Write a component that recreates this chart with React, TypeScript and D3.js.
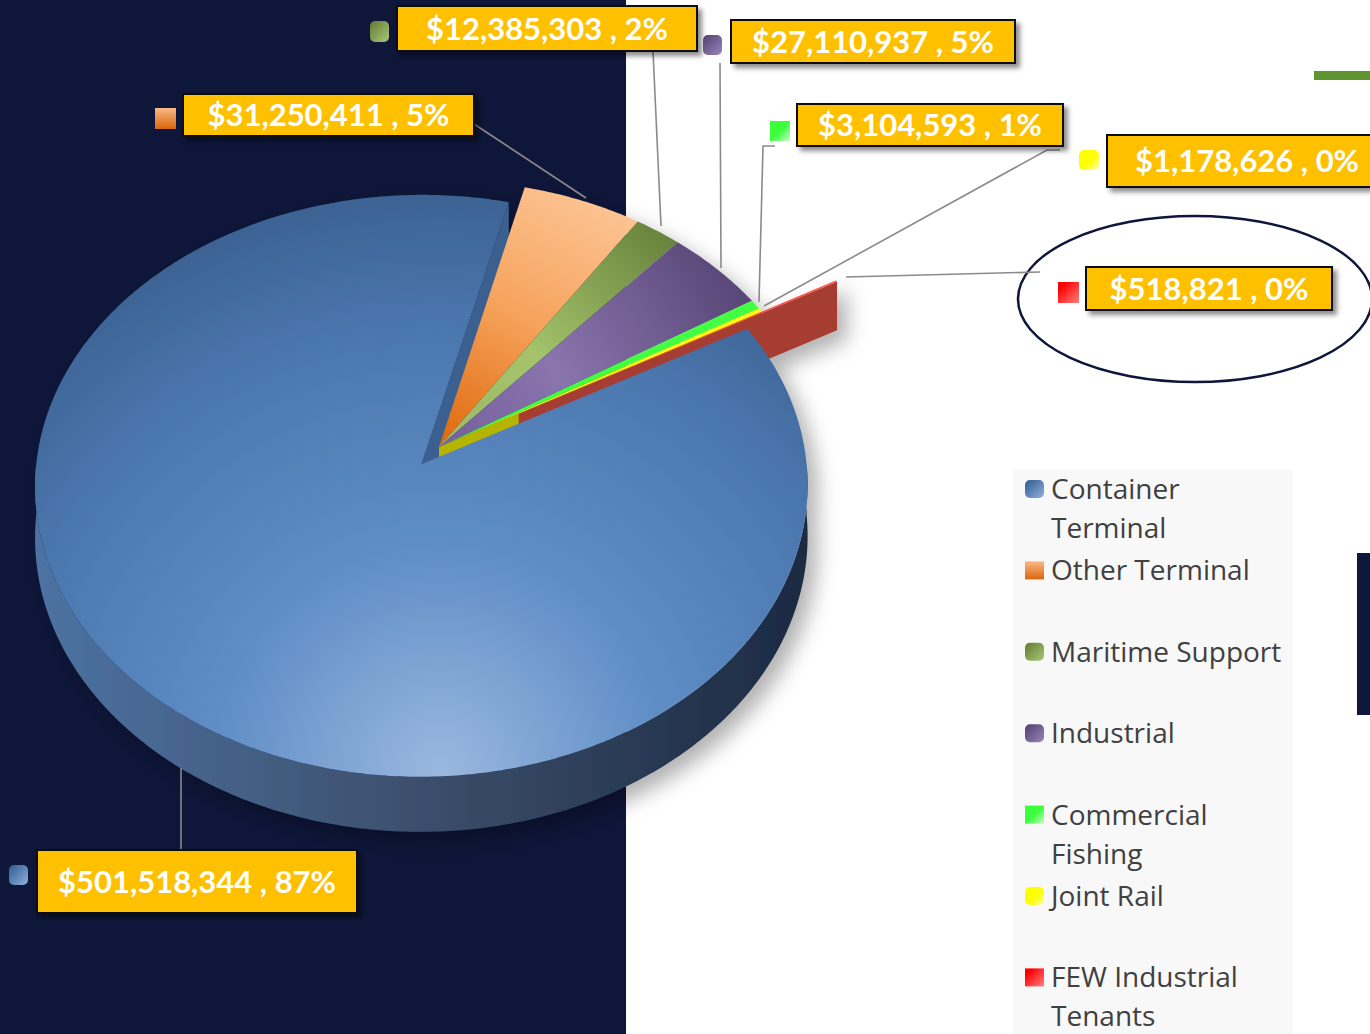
import React from 'react';
import * as d3 from 'd3';

// ---------- data ----------
const categories = [
  'Container Terminal',
  'Other Terminal',
  'Maritime Support',
  'Industrial',
  'Commercial Fishing',
  'Joint Rail',
  'FEW Industrial Tenants',
];
const values = [501518344, 31250411, 12385303, 27110937, 3104593, 1178626, 518821];
const legendLines = [
  ['Container', 'Terminal'],
  ['Other Terminal'],
  ['Maritime Support'],
  ['Industrial'],
  ['Commercial', 'Fishing'],
  ['Joint Rail'],
  ['FEW Industrial', 'Tenants'],
];

// ---------- styles / layout ----------
const topFills = ['url(#gBlueTop)', 'url(#gOrange)', 'url(#gGreen)', 'url(#gPurple)', '#42ff42', '#ffff10', '#ff4a40'];
const markerFills = ['url(#mBlue)', 'url(#mOrange)', 'url(#mGreen)', 'url(#mPurple)', 'url(#mLime)', 'url(#mYellow)', 'url(#mRed)'];
const markerRound = [true, false, true, true, false, true, false];
const explode = [0.075, 0, 0, 0, 0, 0, 0.24];

const labelBox = [
  [37, 850, 320, 63],
  [183, 94, 291, 42],
  [397, 6, 300, 45],
  [731, 20, 284, 43],
  [797, 104, 266, 42],
  [1107, 135, 280, 52],
  [1086, 267, 246, 43],
];
const labelMarker = [
  [9, 865, 19, 20],
  [155, 108, 21, 21],
  [370, 21, 19, 21],
  [703, 35, 19, 20],
  [770, 121, 20, 20],
  [1079, 150, 20, 20],
  [1058, 282, 21, 21],
];
const leaders = [
  [[181, 768], [181, 850]],
  [[586, 198], [474, 124]],
  [[653, 51], [661, 226]],
  [[720, 63], [721, 268]],
  [[775, 146], [763, 146], [759, 302]],
  [[1060, 150], [1047, 150], [764, 306]],
  [[1040, 272], [846, 277]],
];

// projection parameters
const CX = 439, CY = 447, RX = 383.5, KY = 286.8, DP = 13.5, HD = 50.7;
const proj = (u: number, v: number, z: number): [number, number] => {
  const s = DP / (DP + v);
  return [CX + RX * u * s, CY - KY * v * s - HD * z * s];
};

const deg = Math.PI / 180;

export default function App() {
  const total = d3.sum(values);
  const pie = d3
    .pie<number>()
    .sort(null)
    .startAngle(61 * deg)
    .endAngle(61 * deg + 2 * Math.PI);
  const arcs = pie(values);
  const line = d3.line();
  const closed = (pts: [number, number][]) => (line(pts) as string) + 'Z';
  const fmt = d3.format(',');
  const pct = d3.format('.0%');

  const slices = arcs.map((a, i) => {
    const mid = (a.startAngle + a.endAngle) / 2;
    const ou = explode[i] * Math.sin(mid);
    const ov = explode[i] * Math.cos(mid);
    const rim = (t: number, z: number) => proj(Math.sin(t) + ou, Math.cos(t) + ov, z);
    const angles = (a0: number, a1: number) => {
      const n = Math.max(2, Math.ceil(((a1 - a0) / deg) * 1.5));
      return d3.range(n + 1).map((k) => a0 + ((a1 - a0) * k) / n);
    };
    const top = closed([proj(ou, ov, 0), ...angles(a.startAngle, a.endAngle).map((t) => rim(t, 0))]);
    const face = (t: number) =>
      closed([proj(ou, ov, 0), rim(t, 0), rim(t, -1), proj(ou, ov, -1)]);
    let wall: string | null = null;
    const w0 = Math.max(a.startAngle, 90 * deg);
    const w1 = Math.min(a.endAngle, 270 * deg);
    if (w1 > w0) {
      const ang = angles(w0, w1);
      wall = closed([...ang.map((t) => rim(t, 0)), ...ang.slice().reverse().map((t) => rim(t, -1))]);
    }
    return { top, endFace: face(a.endAngle), wall };
  });

  const legendY0 = 499, legendStep = 81.4, legendLH = 39;

  return (
    <div style={{ position: 'fixed', left: 0, top: 0 }}>
      <svg width={1370} height={1034} style={{ display: 'block', background: '#ffffff' }}>
        <defs>
          <radialGradient id="gBlueTop" gradientUnits="userSpaceOnUse" cx={440} cy={770} r={640}>
            <stop offset="0" stopColor="#9ab8df" />
            <stop offset="0.35" stopColor="#5f8dc6" />
            <stop offset="0.7" stopColor="#4a76ad" />
            <stop offset="1" stopColor="#355987" />
          </radialGradient>
          <linearGradient id="gBlueWall" gradientUnits="userSpaceOnUse" x1={40} y1={0} x2={805} y2={0}>
            <stop offset="0" stopColor="#4c72a2" />
            <stop offset="0.45" stopColor="#3e5270" />
            <stop offset="1" stopColor="#1c2a42" />
          </linearGradient>
          <linearGradient id="gOrange" gradientUnits="userSpaceOnUse" x1={585} y1={185} x2={450} y2={445}>
            <stop offset="0" stopColor="#fdc596" />
            <stop offset="0.5" stopColor="#f6a35c" />
            <stop offset="1" stopColor="#df6a0e" />
          </linearGradient>
          <linearGradient id="gGreen" gradientUnits="userSpaceOnUse" x1={670} y1={225} x2={450} y2={445}>
            <stop offset="0" stopColor="#65803a" />
            <stop offset="0.6" stopColor="#a4c36c" />
            <stop offset="1" stopColor="#9dbb66" />
          </linearGradient>
          <linearGradient id="gPurple" gradientUnits="userSpaceOnUse" x1={740} y1={280} x2={470} y2={440}>
            <stop offset="0" stopColor="#574676" />
            <stop offset="0.65" stopColor="#8a74ad" />
            <stop offset="1" stopColor="#7864a0" />
          </linearGradient>
          <linearGradient id="mBlue" x1="0" y1="0" x2="1" y2="1">
            <stop offset="0" stopColor="#2f5a91" />
            <stop offset="1" stopColor="#8fb0dc" />
          </linearGradient>
          <linearGradient id="mOrange" x1="0" y1="0" x2="0" y2="1">
            <stop offset="0" stopColor="#fbb883" />
            <stop offset="1" stopColor="#d9660d" />
          </linearGradient>
          <linearGradient id="mGreen" x1="0" y1="0" x2="1" y2="1">
            <stop offset="0" stopColor="#5e7a30" />
            <stop offset="1" stopColor="#a9c779" />
          </linearGradient>
          <linearGradient id="mPurple" x1="0" y1="0" x2="1" y2="1">
            <stop offset="0" stopColor="#4f3f6e" />
            <stop offset="1" stopColor="#9a86bb" />
          </linearGradient>
          <linearGradient id="mLime" x1="0" y1="0" x2="1" y2="1">
            <stop offset="0.5" stopColor="#3cff3c" />
            <stop offset="1" stopColor="#c8ffc8" />
          </linearGradient>
          <linearGradient id="mYellow" x1="0" y1="0" x2="1" y2="1">
            <stop offset="0.55" stopColor="#ffff00" />
            <stop offset="1" stopColor="#ffffb0" />
          </linearGradient>
          <linearGradient id="mRed" x1="0" y1="0" x2="1" y2="1">
            <stop offset="0.2" stopColor="#ff0000" />
            <stop offset="1" stopColor="#ff8080" />
          </linearGradient>
          <filter id="boxShadow" x="-10%" y="-30%" width="130%" height="180%">
            <feDropShadow dx="4" dy="4" stdDeviation="2.5" floodColor="#000" floodOpacity="0.45" />
          </filter>
          <filter id="pieShadow" x="-20%" y="-20%" width="150%" height="150%">
            <feDropShadow dx="10" dy="10" stdDeviation="10" floodColor="#000" floodOpacity="0.3" />
          </filter>
        </defs>

        {/* backgrounds */}
        <rect x={0} y={0} width={626} height={1034} fill="#0e1639" />
        <rect x={1013} y={470} width={280} height={564} fill="#f8f8f8" />
        <rect x={1314} y={71} width={56} height={9} fill="#5f9430" />
        <rect x={1357} y={553} width={13} height={162} fill="#0e1639" />
        <ellipse cx={1195} cy={299} rx={177} ry={83} fill="none" stroke="#0e1639" strokeWidth={2.5} />

        {/* pie */}
        <g filter="url(#pieShadow)">
          <path d={slices[0].endFace} fill="#3b5f8e" />
          <path d={slices[5].endFace} fill="#b5b400" />
          <path d={slices[6].endFace} fill="#a63c33" />
          <path d={slices[6].top} fill={topFills[6]} />
          {[1, 2, 3, 4, 5].map((i) => (
            <path key={i} d={slices[i].top} fill={topFills[i]} />
          ))}
          {slices[0].wall && <path d={slices[0].wall} fill="url(#gBlueWall)" />}
          <path d={slices[0].top} fill={topFills[0]} />
        </g>

        {/* leader lines */}
        {leaders.map((pts, i) => (
          <path key={i} d={line(pts as [number, number][]) as string} fill="none" stroke="#8a8a8a" strokeWidth={1.6} />
        ))}

        {/* data labels */}
        {values.map((v, i) => {
          const [bx, by, bw, bh] = labelBox[i];
          const [mx, my, mw, mh] = labelMarker[i];
          return (
            <g key={i}>
              <rect x={mx} y={my} width={mw} height={mh} rx={markerRound[i] ? 5 : 0} fill={markerFills[i]} />
              <rect x={bx} y={by} width={bw} height={bh} fill="#ffc000" stroke="#111" strokeWidth={2} filter="url(#boxShadow)" />
              <text
                x={bx + bw / 2}
                y={by + bh / 2 + 11}
                textAnchor="middle"
                fontFamily="Lato, 'Open Sans', sans-serif"
                fontWeight={700}
                fontSize={31}
                fill="#ffffff"
              >
                {`$${fmt(v)} , ${pct(v / total)}`}
              </text>
            </g>
          );
        })}

        {/* legend */}
        {categories.map((c, i) => {
          const by = legendY0 + i * legendStep;
          return (
            <g key={c}>
              <rect x={1025} y={by - 19} width={19} height={18} rx={markerRound[i] ? 5 : 0} fill={markerFills[i]} />
              <text fontFamily="'Open Sans', sans-serif" fontSize={28} fill="#404040">
                {legendLines[i].map((ln, k) => (
                  <tspan key={k} x={1051} y={by + k * legendLH}>
                    {ln}
                  </tspan>
                ))}
              </text>
            </g>
          );
        })}
      </svg>
    </div>
  );
}
